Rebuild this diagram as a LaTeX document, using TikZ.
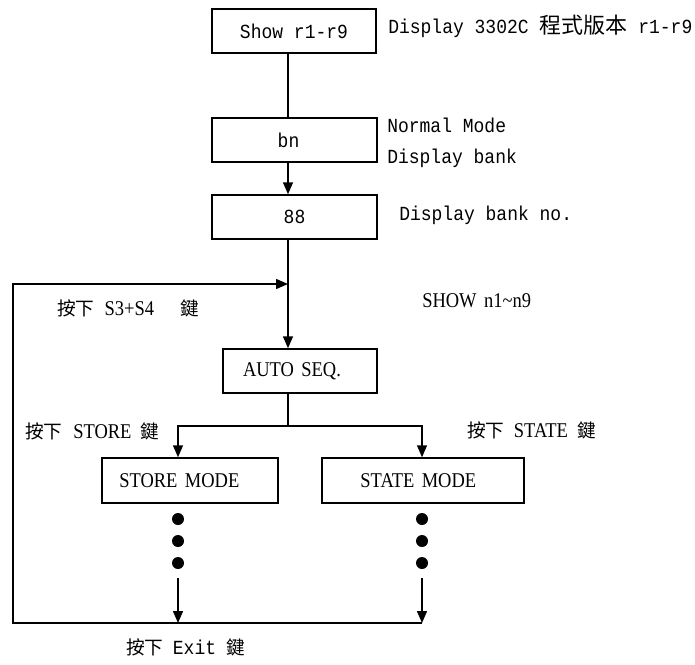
\documentclass[tikz,border=0pt]{standalone}
\usepackage{fontspec}
\setmainfont{Liberation Serif}
\newfontfamily\monofont[FakeStretch=0.9]{Liberation Mono}
\newfontfamily\narrowfont[FakeStretch=0.88,WordSpace=1.6]{Liberation Serif}
\newfontfamily\cjkfont{Noto Sans CJK TC}
\usetikzlibrary{arrows.meta}
\newcommand{\mono}[1]{{\monofont\fontsize{15pt}{18pt}\selectfont #1}}
\newcommand{\nar}[1]{{\narrowfont\fontsize{15.75pt}{18pt}\selectfont #1}}
\newcommand{\zh}[1]{{\cjkfont\fontsize{14pt}{16pt}\selectfont #1}}
\newcommand{\zhtop}[1]{{\cjkfont\fontsize{16.5pt}{18pt}\selectfont #1}}

\tikzset{
  modebox/.style={draw, line width=1.1pt, inner sep=0pt, minimum height=33pt},
  link/.style={line width=1.1pt},
  flow/.style={link, -{Triangle[length=9pt,width=7.5pt]}},
  dot/.style={circle, fill, inner sep=0pt, minimum size=9pt},
  note/.style={anchor=base west, inner sep=0pt},
}

\begin{document}
\begin{tikzpicture}[x=0.75pt,y=-0.75pt]
\useasboundingbox (0,0) rectangle (695,664);
% boxes
\node[modebox, minimum width=123pt] (show) at (294,31) {\mono{Show r1-r9}};
\node[modebox, minimum width=123.75pt] (bn) at (294.5,140) {\mono{bn}\kern9pt};
\node[modebox, minimum width=123.75pt] (bank) at (294.5,217) {\mono{88}};
\node[modebox, minimum width=115.5pt] (auto) at (300,371) {\nar{AUTO SEQ.}\kern12pt};
\node[modebox, minimum width=132pt, minimum height=33.75pt] (store) at (190,480.5) {\nar{STORE MODE}\kern16pt};
\node[modebox, minimum width=151.5pt, minimum height=33.75pt] (state) at (423,480.5) {\nar{STATE MODE}\kern7pt};
\coordinate (spine) at (288,0);
\coordinate (lx) at (178,0);
\coordinate (rx) at (422,0);
\coordinate (fork) at (288,426);
\coordinate (looptop) at (13,284);
\coordinate (loopbot) at (13,623);
% dots
\foreach \y [count=\i] in {519,541,563} {
  \node[dot] (sd\i) at (178,\y) {};
  \node[dot] (td\i) at (422,\y) {};
}
% notes
\node[note] (vernote) at (388,33) {\mono{Display 3302C~}\zhtop{程式版本}\mono{~r1-r9}};
\node[note] (normalnote) at (387,132) {\mono{Normal Mode}};
\node[note] (banknote) at (387,163) {\mono{Display bank}};
\node[note] (banknonote) at (399,220) {\mono{Display bank no.}};
\node[note] (shownote) at (422,307) {\nar{SHOW n1\textasciitilde n9}};
\node[note] (keynote) at (57,315) {\zh{按下}\hspace{7.5pt}\nar{S3+S4}\hspace{20pt}\zh{鍵}};
\node[note] (storenote) at (25,438) {\zh{按下}\hspace{8pt}\nar{STORE}\hspace{7pt}\zh{鍵}};
\node[note] (statenote) at (467,437) {\zh{按下}\hspace{7pt}\nar{STATE}\hspace{7pt}\zh{鍵}};
\node[note] (exitnote) at (126,654) {\zh{按下}\hspace{7pt}\mono{Exit}\hspace{8pt}\zh{鍵}};
% connectors
\draw[link] (show.south -| spine) -- (bn.north -| spine);
\draw[flow] (bn.south -| spine) -- (bank.north -| spine);
\draw[flow] (bank.south -| spine) -- (auto.north -| spine);
\draw[link] (auto.south -| spine) -- (fork);
\draw[flow] (fork) -| (store.north -| lx);
\draw[flow] (fork) -| (state.north -| rx);
\draw[flow, shorten <=6.75pt] (sd3.south) -- (sd3.south |- loopbot);
\draw[flow, shorten <=6.75pt] (td3.south) -- (td3.south |- loopbot);
\draw[flow] (loopbot -| rx) -- (loopbot) -- (looptop) -- (looptop -| spine);
\end{tikzpicture}
\end{document}
